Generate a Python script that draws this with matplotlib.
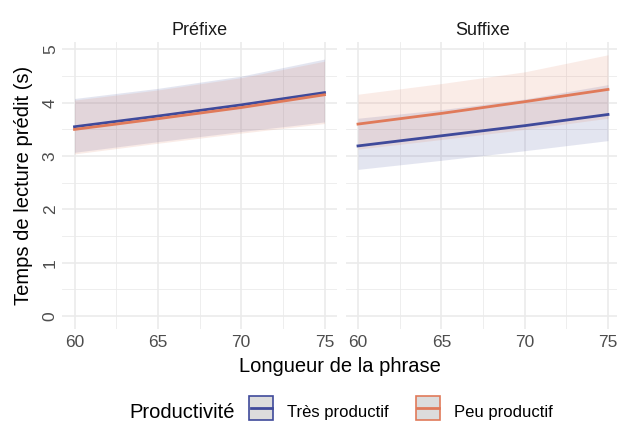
import matplotlib
matplotlib.use('Agg')
import matplotlib.pyplot as plt
from matplotlib.patches import Rectangle
from matplotlib.lines import Line2D
from matplotlib.legend_handler import HandlerBase
from matplotlib.offsetbox import HPacker

plt.rcParams.update({
    'font.family': ['Liberation Sans', 'DejaVu Sans'],
    'font.size': 11,
})

BLUE = '#3F4A9B'
ORANGE = '#E07A5A'
GRID = '#EBEBEB'

longueur = [60, 65, 70, 75]
panels = ['Préfixe', 'Suffixe']
groups = ['Très productif', 'Peu productif']

# predicted reading time and 95% band, per panel and group
fit = {
    ('Préfixe', 'Très productif'): [3.55, 3.75, 3.96, 4.19],
    ('Préfixe', 'Peu productif'): [3.50, 3.70, 3.91, 4.15],
    ('Suffixe', 'Très productif'): [3.19, 3.38, 3.57, 3.78],
    ('Suffixe', 'Peu productif'): [3.60, 3.80, 4.02, 4.25],
}
lower = {
    ('Préfixe', 'Très productif'): [3.07, 3.27, 3.46, 3.64],
    ('Préfixe', 'Peu productif'): [3.04, 3.24, 3.43, 3.61],
    ('Suffixe', 'Très productif'): [2.75, 2.92, 3.10, 3.29],
    ('Suffixe', 'Peu productif'): [3.13, 3.31, 3.50, 3.71],
}
upper = {
    ('Préfixe', 'Très productif'): [4.08, 4.27, 4.50, 4.82],
    ('Préfixe', 'Peu productif'): [4.05, 4.24, 4.47, 4.78],
    ('Suffixe', 'Très productif'): [3.71, 3.87, 4.07, 4.34],
    ('Suffixe', 'Peu productif'): [4.16, 4.36, 4.58, 4.90],
}
colors = {'Très productif': BLUE, 'Peu productif': ORANGE}

fig = plt.figure(figsize=(6.17, 4.25), dpi=100)
W, H = 617, 425
axes = []
for left in [62, 345.5]:
    ax = fig.add_axes([left / W, (H - 329) / H, 275 / W, 287 / H])
    axes.append(ax)

for ax, panel in zip(axes, panels):
    ax.set_xlim(59.25, 75.75)
    ax.set_ylim(-0.245, 5.14)
    ax.set_xticks([60, 65, 70, 75])
    ax.set_xticks([62.5, 67.5, 72.5], minor=True)
    ax.set_yticks([0, 1, 2, 3, 4, 5])
    ax.set_yticks([0.5, 1.5, 2.5, 3.5, 4.5], minor=True)
    ax.grid(True, which='major', color=GRID, lw=1.2)
    ax.grid(True, which='minor', color=GRID, lw=0.6)
    ax.set_axisbelow(True)
    for s in ax.spines.values():
        s.set_visible(False)
    ax.tick_params(which='both', length=0)
    ax.tick_params(axis='x', labelsize=12.5, labelcolor='#4D4D4D', pad=4)
    ax.tick_params(axis='y', labelsize=12.5, labelcolor='#4D4D4D', pad=3)
    for lab in ax.get_yticklabels():
        lab.set_rotation(90)
        lab.set_va('center')
    ax.set_title(panel, fontsize=13, color='#1A1A1A', pad=5)

    for g in groups:
        ax.fill_between(longueur, lower[(panel, g)], upper[(panel, g)],
                        color=colors[g], alpha=0.14, lw=0)
    for g in groups:
        ax.plot(longueur, fit[(panel, g)], color=colors[g], lw=2)

axes[1].set_yticklabels([])
axes[0].set_ylabel('Temps de lecture prédit (s)', fontsize=14.5, labelpad=7)
fig.text(340 / W, 1 - 367 / H, 'Longueur de la phrase', ha='center',
         va='center', fontsize=14.5)


class KeyHandler(HandlerBase):
    def create_artists(self, legend, orig, xd, yd, w, h, fontsize, trans):
        c = orig.get_color()
        s = min(w, h) * 1.6
        x0 = xd + (w - s) / 2
        y0 = yd + (h - s) / 2
        rect = Rectangle((x0, y0), s, s, facecolor='#DCDCDC',
                         edgecolor=c, lw=1.2, transform=trans)
        line = Line2D([x0 + 1, x0 + s - 1], [y0 + s / 2, y0 + s / 2],
                      color=c, lw=2, transform=trans)
        return [rect, line]


handles = [Line2D([], [], color=colors[g]) for g in groups]
leg = fig.legend(handles, groups, loc='center', bbox_to_anchor=(341 / W, 1 - 412 / H),
                 ncol=2, frameon=False, title='Productivité', fontsize=12,
                 title_fontsize=14.5, handler_map={Line2D: KeyHandler()},
                 handlelength=1.5, handleheight=1.0, handletextpad=0.8,
                 columnspacing=1.6)
# title sits on the same row as the keys
title_box = leg._legend_title_box
body = leg._legend_handle_box
leg._legend_box._children = [HPacker(pad=0, sep=10, children=[title_box, body], align='center')]

fig.savefig('out.png', dpi=100)
